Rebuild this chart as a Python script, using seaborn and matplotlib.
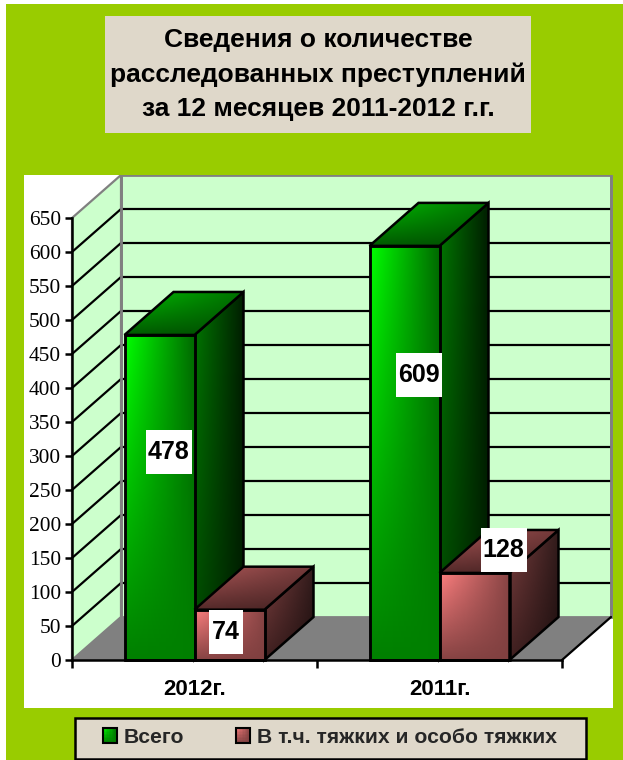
import matplotlib
matplotlib.use("Agg")
import matplotlib.pyplot as plt
from matplotlib.legend_handler import HandlerBase
from matplotlib.patches import Polygon, Rectangle
import numpy as np
import pandas as pd
import seaborn as sns

# -------------------------------------------------------------------------
# DATA
# -------------------------------------------------------------------------
YEARS = ["2012г.", "2011г."]
SERIES = ["Всего", "В т.ч. тяжких и особо тяжких"]
TOTAL = [478, 609]
SEVERE = [74, 128]
Y_TICKS = list(range(0, 651, 50))
TITLE = "Сведения о количестве\nрасследованных преступлений\nза 12 месяцев 2011-2012 г.г."

df = pd.DataFrame(
    {
        "year": YEARS * 2,
        "kind": [SERIES[0]] * 2 + [SERIES[1]] * 2,
        "count": TOTAL + SEVERE,
    }
)

# -------------------------------------------------------------------------
# LAYOUT (pixels of the 623x760 picture)
# -------------------------------------------------------------------------
W, H = 623, 760
PX_X = 245.0  # pixels per category
PX_Y = 0.68  # pixels per unit of value
DEPTH_X = 49 / PX_X
DEPTH_Y = 43 / PX_Y
LINE = 1.8
GRID = 1.6

GREEN_BG = "#99CC00"
PAPER = "#DFD8CA"
WALL = "#CCFFCC"
FLOOR = "#808080"

# corners: top-left, top-right, bottom-left, bottom-right
GREEN_FACES = {
    "front": [(0, 255, 0), (0, 105, 0), (0, 128, 0), (0, 128, 0)],
    "side": [(0, 120, 0), (0, 30, 0), (0, 70, 0), (0, 30, 0)],
    "top": [(0, 190, 0), (0, 115, 0), (0, 90, 0), (0, 80, 0)],
}
PINK_FACES = {
    "front": [(255, 128, 128), (135, 68, 68), (135, 68, 68), (128, 64, 64)],
    "side": [(125, 64, 64), (50, 28, 28), (65, 33, 33), (32, 16, 16)],
    "top": [(175, 88, 88), (115, 58, 58), (85, 42, 42), (72, 36, 36)],
}

# offset of each value label from the top centre of its bar, and box size
LABEL_OFFSETS = {478: (9, -117), 609: (14, -129), 74: (-4, -22), 128: (29, 23)}
BOX_H = 44

sns.set_theme(style="white")
plt.rcParams["font.family"] = ["Liberation Sans", "DejaVu Sans"]

fig = plt.figure(figsize=(W / 100, H / 100), dpi=100, facecolor="white")
ax = fig.add_axes([24 / W, (H - 708) / H, 589 / W, 533 / H], facecolor="white")


def fig_rect(x0, y0, x1, y1, **kw):
    fig.add_artist(
        Rectangle(
            (x0 / W, 1 - y1 / H),
            (x1 - x0) / W,
            (y1 - y0) / H,
            transform=fig.transFigure,
            **kw,
        )
    )


def blend(corners, u, v):
    tl, tr, bl, br = [np.array(c, dtype=float) for c in corners]
    return (tl * (1 - u) + tr * u) * (1 - v) + (bl * (1 - u) + br * u) * v


class GradientSwatch(HandlerBase):
    # legend key shaded like the front of a bar
    def create_artists(self, legend, orig_handle, xd, yd, width, height, fontsize, trans):
        r, g, b, _ = orig_handle.get_facecolor()
        corners = GREEN_FACES["front"] if g > r else PINK_FACES["front"]
        n = 10
        artists = []
        for i in range(n):
            for j in range(n):
                c = blend(corners, (i + 0.5) / n, (j + 0.5) / n) / 255
                artists.append(
                    Rectangle(
                        (-xd + width * i / n, -yd + height * (1 - (j + 1) / n)),
                        width / n + 0.3,
                        height / n + 0.3,
                        facecolor=c,
                        edgecolor="none",
                        transform=trans,
                    )
                )
        artists.append(
            Rectangle(
                (-xd, -yd),
                width,
                height,
                fill=False,
                edgecolor="black",
                linewidth=1.5,
                transform=trans,
            )
        )
        return artists


fig_rect(6, 4, W, H, facecolor=GREEN_BG, edgecolor="none", zorder=-2)
fig_rect(105, 16, 531, 133, facecolor=PAPER, edgecolor="none", zorder=-1)
fig_rect(74.5, 718, 586, 759, facecolor=PAPER, edgecolor="black", linewidth=LINE, zorder=-1)

sns.barplot(
    data=df,
    x="year",
    y="count",
    hue="kind",
    order=YEARS,
    hue_order=SERIES,
    palette=["#00B000", "#B05A5A"],
    width=140 / PX_X,
    saturation=1,
    edgecolor="black",
    linewidth=LINE,
    ax=ax,
)

left, right = -0.5, 1.5
top = Y_TICKS[-1]

# -------------------------------------------------------------------------
# WALLS AND FLOOR
# -------------------------------------------------------------------------
ax.add_patch(
    Rectangle(
        (left + DEPTH_X, DEPTH_Y),
        right - left,
        top,
        facecolor=WALL,
        edgecolor=FLOOR,
        linewidth=2,
        zorder=0.2,
    )
)
ax.add_patch(
    Polygon(
        [
            (left, 0),
            (left, top),
            (left + DEPTH_X, top + DEPTH_Y),
            (left + DEPTH_X, DEPTH_Y),
        ],
        facecolor=WALL,
        edgecolor=FLOOR,
        linewidth=GRID,
        zorder=0.3,
    )
)
ax.add_patch(
    Polygon(
        [
            (left, 0),
            (right, 0),
            (right + DEPTH_X, DEPTH_Y),
            (left + DEPTH_X, DEPTH_Y),
        ],
        facecolor=FLOOR,
        edgecolor="none",
        zorder=0.4,
    )
)
ax.plot(
    [right, right + DEPTH_X], [0, DEPTH_Y], color="black", lw=GRID, zorder=0.6
)
for v in Y_TICKS[1:-1]:
    ax.plot(
        [left, left + DEPTH_X, right + DEPTH_X],
        [v, v + DEPTH_Y, v + DEPTH_Y],
        color="black",
        lw=GRID,
        zorder=0.5,
        solid_joinstyle="miter",
    )
# wall borders go back over the grid lines
ax.plot(
    [left + DEPTH_X] * 2, [DEPTH_Y, top + DEPTH_Y], color=FLOOR, lw=2, zorder=0.55
)
ax.plot(
    [right + DEPTH_X] * 2, [DEPTH_Y, top + DEPTH_Y], color=FLOOR, lw=2, zorder=0.55
)


# -------------------------------------------------------------------------
# 3D BARS
# -------------------------------------------------------------------------
def gradient_face(verts, corners, z):
    xs = [p[0] for p in verts]
    ys = [p[1] for p in verts]
    u = np.linspace(0, 1, 80)[None, :, None]
    v = np.linspace(0, 1, 80)[:, None, None]
    img = blend([np.array(c)[None, None, :] for c in corners], u, v)
    outline = Polygon(
        verts,
        closed=True,
        fill=False,
        edgecolor="black",
        linewidth=LINE,
        joinstyle="miter",
        zorder=z + 0.01,
    )
    ax.add_patch(outline)
    im = ax.imshow(
        img.astype(np.uint8),
        extent=(min(xs), max(xs), min(ys), max(ys)),
        aspect="auto",
        interpolation="bilinear",
        zorder=z,
    )
    im.set_clip_path(outline)


bars = []
for container, faces in zip(ax.containers, [GREEN_FACES, PINK_FACES]):
    bars += [(bar, faces) for bar in container]
bars.sort(key=lambda item: item[0].get_x())

for i, (bar, faces) in enumerate(bars):
    x0, x1 = bar.get_x(), bar.get_x() + bar.get_width()
    h = bar.get_height()
    z = 2 + i
    gradient_face(
        [(x1, 0), (x1, h), (x1 + DEPTH_X, h + DEPTH_Y), (x1 + DEPTH_X, DEPTH_Y)],
        faces["side"],
        z,
    )
    gradient_face(
        [(x0, h), (x1, h), (x1 + DEPTH_X, h + DEPTH_Y), (x0 + DEPTH_X, h + DEPTH_Y)],
        faces["top"],
        z + 0.1,
    )
    gradient_face([(x0, 0), (x1, 0), (x1, h), (x0, h)], faces["front"], z + 0.2)
    bar.set_facecolor("none")
    bar.set_zorder(z + 0.3)

    dx, dy = LABEL_OFFSETS[int(h)]
    cx = (x0 + x1) / 2 + dx / PX_X
    cy = h + dy / PX_Y
    box_w = 46 if h >= 100 else 34
    ax.add_patch(
        Rectangle(
            (cx - box_w / 2 / PX_X, cy - BOX_H / 2 / PX_Y),
            box_w / PX_X,
            BOX_H / PX_Y,
            facecolor="white",
            edgecolor="none",
            zorder=20,
        )
    )
    ax.text(
        cx,
        cy,
        f"{int(h)}",
        ha="center",
        va="center",
        fontsize=18,
        fontweight="bold",
        color="black",
        zorder=21,
    )

# -------------------------------------------------------------------------
# AXES
# -------------------------------------------------------------------------
ax.set_xlim((24 - 194.5) / PX_X, (613 - 194.5) / PX_X)
ax.set_ylim((660 - 708) / PX_Y, (660 - 175) / PX_Y)
ax.set_xlabel("")
ax.set_ylabel("")

for side in ["top", "right"]:
    ax.spines[side].set_visible(False)
for side, bounds in [("left", (0, top)), ("bottom", (left, right))]:
    ax.spines[side].set_visible(True)
    ax.spines[side].set_color("black")
    ax.spines[side].set_linewidth(LINE)
    ax.spines[side].set_bounds(*bounds)
    ax.spines[side].set_zorder(15)
ax.spines["left"].set_position(("data", left))
ax.spines["bottom"].set_position(("data", 0))

ax.set_yticks(Y_TICKS)
ax.set_xticks([left, 0.5, right], labels=["", "", ""])
ax.set_xticks([0, 1], labels=YEARS, minor=True)
ax.tick_params(axis="y", length=5, width=LINE, color="black", pad=3, left=True)
ax.tick_params(axis="x", which="major", length=5.5, width=LINE, color="black", bottom=True)
ax.tick_params(axis="x", which="minor", length=0, pad=13.5)
for lab in ax.get_yticklabels():
    lab.set_fontfamily("Liberation Serif")
    lab.set_fontsize(15.4)
    lab.set_color("black")
for lab in ax.get_xticklabels(minor=True):
    lab.set_fontweight("bold")
    lab.set_fontsize(16)
    lab.set_color("black")

# -------------------------------------------------------------------------
# TITLE AND LEGEND
# -------------------------------------------------------------------------
fig.text(
    318 / W,
    1 - 74.5 / H,
    TITLE,
    ha="center",
    va="center",
    ma="center",
    fontsize=19,
    fontweight="bold",
    color="black",
    linespacing=1.52,
)

sns.move_legend(
    ax,
    "center left",
    bbox_to_anchor=(103 / W, 1 - 737.5 / H),
    bbox_transform=fig.transFigure,
    ncol=2,
    title="",
    frameon=False,
    prop={"family": "Liberation Sans", "weight": "bold", "size": 15.2},
    handlelength=0.68,
    handleheight=0.68,
    handletextpad=0.3,
    columnspacing=2.45,
    borderpad=0,
    borderaxespad=0,
    handler_map={Rectangle: GradientSwatch()},
)

fig.savefig("out.png", dpi=100)
